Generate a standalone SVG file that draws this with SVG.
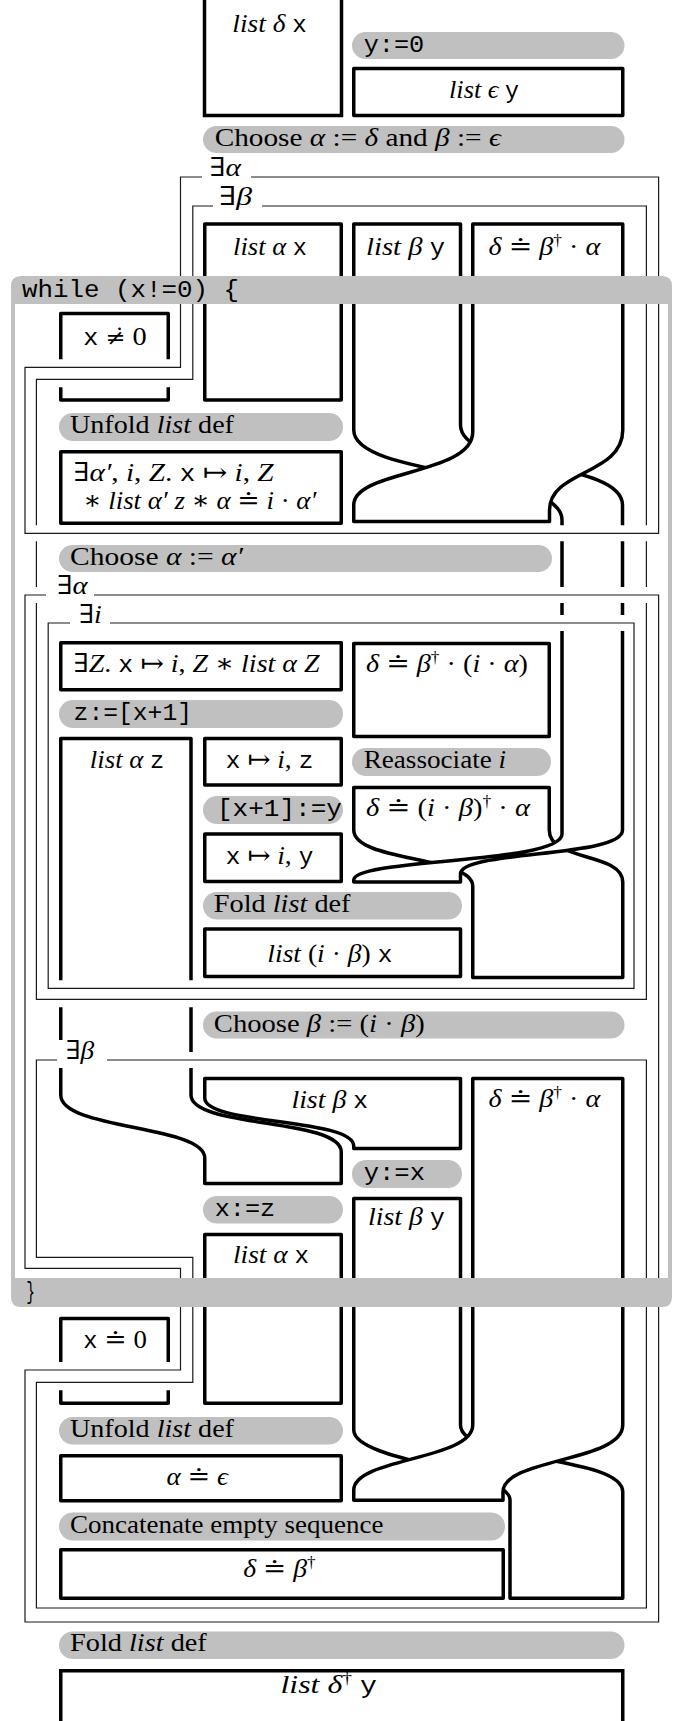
<svg xmlns="http://www.w3.org/2000/svg" width="687" height="1721" viewBox="0 0 687 1721">
<style>
.rb{fill:#fff;stroke:#000;stroke-width:3.5;stroke-linejoin:round}
.ed{fill:none;stroke:#000;stroke-width:3.5}
.wf{fill:#fff;stroke:none}
.pl{fill:#c0c0c0}
.bx{fill:none;stroke:#1a1a1a;stroke-width:1.2}
.hl{fill:none;stroke:#fff;stroke-width:16}
.lb{fill:#fff}
text{font-family:"Liberation Serif","DejaVu Serif",serif;font-size:26px;fill:#000}
.i{font-style:italic}
.tt{font-family:"Liberation Mono","DejaVu Sans Mono",monospace;font-size:23px}
.sup{font-size:16px}
.dj{font-family:"DejaVu Serif",serif;font-size:22px}
</style>

<!-- ribbons -->
<g id="ribbons">
  <g id="list-delta-x">
    <rect class="wf" x="204.5" y="-5" width="137" height="120.5"/>
    <path class="ed" d="M204.5,-5 V115.5 H341.5 V-5"/>
  </g>
  <rect id="list-eps-y" class="rb" x="353.75" y="68.5" width="269" height="47"/>
  <rect id="list-alpha-x-1" class="rb" x="204.75" y="224" width="136.5" height="176"/>
  <!-- delta ribbon passing under list beta y -->
  <path id="delta-2" class="rb" d="M353.75,787.5 H549.25 V830 C549.25,862 622.75,852 622.75,882 V977.5 H472.75 V886 C472.75,856 353.75,862 353.75,830 Z"/>
  <path id="list-beta-y-1" class="rb" d="M353.75,224 H460.5 V425 C460.5,470 622.5,460 622.5,505 V830 C622.5,858 460.5,850 460.5,874 V882 H353.75 V880 C353.75,858 562,864 562,834 V520 C562,470 353.75,478 353.75,430 Z"/>
  <path id="delta-1" class="rb" d="M472.75,224 H622.75 V430 C622.75,475 549.5,470 549.5,510 V521.5 H353.75 V505 C353.75,470 472.75,475 472.75,432 Z"/>
  <path id="x-neq-0" class="rb" d="M60.75,400 V313.5 H168.25 V400 Z"/>
  <rect id="unfold-result" class="rb" x="60.75" y="451.75" width="280.5" height="71.5"/>
  <rect id="exists-Z" class="rb" x="60.75" y="642.75" width="280.5" height="47"/>
  <rect id="delta-i-alpha" class="rb" x="353.75" y="643.5" width="195.5" height="93"/>
  <path id="list-alpha-z" class="rb" d="M60.75,738.5 H191 V1095 C191,1128 341.25,1118 341.25,1152 V1183.5 H204.75 V1158 C204.75,1125 60.75,1130 60.75,1095 Z"/>
  <rect id="x-pts-z" class="rb" x="204.75" y="738.5" width="136.5" height="46.5"/>
  <rect id="x-pts-y" class="rb" x="204.75" y="834" width="136.5" height="47.5"/>
  <rect id="list-i-beta-x" class="rb" x="204.75" y="929" width="255.75" height="47.5"/>
  <path id="list-beta-x" class="rb" d="M204.75,1078.5 H460.5 V1148.5 H353.75 V1146 C353.75,1118 204.75,1125 204.75,1098 Z"/>
  <path id="list-beta-y-3" class="rb" d="M353.75,1198.5 H460.5 V1425 C460.5,1462 622.75,1455 622.75,1492 V1598.25 H510 V1500 C510,1470 353.75,1462 353.75,1430 Z"/>
  <path id="delta-3" class="rb" d="M472.75,1078.5 H622.75 V1425 C622.75,1462 503,1458 503,1492 V1500.25 H353.75 V1490 C353.75,1458 472.75,1460 472.75,1425 Z"/>
  <rect id="list-alpha-x-3" class="rb" x="204.75" y="1234.5" width="136.5" height="168.75"/>
  <rect id="x-eq-0" class="rb" x="60.75" y="1318.5" width="107.5" height="84.75"/>
  <rect id="alpha-eq-eps" class="rb" x="60.75" y="1455.75" width="280.5" height="45"/>
  <rect id="delta-eq-beta-dag" class="rb" x="60.75" y="1549.75" width="442.5" height="48.5"/>
  <g id="list-delta-dag-y">
    <rect class="wf" x="60.75" y="1670.75" width="562" height="60"/>
    <path class="ed" d="M60.75,1730 V1670.75 H622.75 V1730"/>
  </g>
</g>

<!-- existential scopes: each drawn with a white halo so earlier lines break where they cross -->
<g id="scopes">
  <g id="ex-beta-1">
    <path class="hl" d="M192.8,206 V379.3 H36.4 V999.3 H646.4 V206 Z"/>
    <path class="bx" d="M192.8,206 V379.3 H36.4 V999.3 H646.4 V206 Z"/>
  </g>
  <g id="ex-alpha-1">
    <path class="hl" d="M180.5,177 V367.3 H25 V533.3 H658.6 V177 Z"/>
    <path class="bx" d="M180.5,177 V367.3 H25 V533.3 H658.6 V177 Z"/>
  </g>
  <g id="ex-alpha-2">
    <path class="hl" d="M25,595 V1268.3 H180.5 V1370 H25 V1622 H658.6 V595 Z"/>
    <path class="bx" d="M25,595 V1268.3 H180.5 V1370 H25 V1622 H658.6 V595 Z"/>
  </g>
  <g id="ex-i">
    <path class="hl" d="M48.2,623 V988.3 H634 V623 Z"/>
    <path class="bx" d="M48.2,623 V988.3 H634 V623 Z"/>
  </g>
  <g id="ex-beta-2">
    <path class="hl" d="M36.4,1060 V1257.3 H192.8 V1382.3 H36.4 V1608 H646.4 V1060 Z"/>
    <path class="bx" d="M36.4,1060 V1257.3 H192.8 V1382.3 H36.4 V1608 H646.4 V1060 Z"/>
  </g>
  <rect class="lb" x="202" y="158" width="49" height="26"/>
  <rect class="lb" x="213" y="187" width="49" height="27"/>
  <rect class="lb" x="46" y="576" width="48" height="27"/>
  <rect class="lb" x="70" y="604" width="40" height="27"/>
  <rect class="lb" x="57" y="1040" width="50" height="28"/>
  <text x="209.5" y="176" textLength="31.5" lengthAdjust="spacingAndGlyphs">∃<tspan class="i">α</tspan></text>
  <text x="219" y="205" textLength="33" lengthAdjust="spacingAndGlyphs">∃<tspan class="i">β</tspan></text>
  <text x="57" y="594" textLength="30.6" lengthAdjust="spacingAndGlyphs">∃<tspan class="i">α</tspan></text>
  <text x="79" y="622.5" textLength="22.8" lengthAdjust="spacingAndGlyphs">∃<tspan class="i">i</tspan></text>
  <text x="65.7" y="1058.5" textLength="28.5" lengthAdjust="spacingAndGlyphs">∃<tspan class="i">β</tspan></text>
</g>

<!-- proof steps -->
<g id="steps">
  <g id="s-y0"><rect class="pl" x="352" y="32" width="272.5" height="27" rx="13.5"/>
    <text class="tt" x="363.7" y="52" textLength="60.5" lengthAdjust="spacingAndGlyphs">y:=0</text></g>
  <g id="s-choose1"><rect class="pl" x="203" y="126" width="421.5" height="27" rx="13.5"/>
    <text x="214.7" y="146" textLength="286" lengthAdjust="spacingAndGlyphs">Choose <tspan class="i">α</tspan> := <tspan class="i">δ</tspan> and <tspan class="i">β</tspan> := <tspan class="i">ϵ</tspan></text></g>
  <g id="s-unfold1"><rect class="pl" x="59" y="413" width="284" height="28" rx="14"/>
    <text x="70" y="432.5" textLength="164" lengthAdjust="spacingAndGlyphs">Unfold <tspan class="i">list</tspan> def</text></g>
  <g id="s-choose2"><rect class="pl" x="59" y="545" width="493" height="27" rx="13.5"/>
    <text x="70" y="564.5" textLength="173" lengthAdjust="spacingAndGlyphs">Choose <tspan class="i">α</tspan> := <tspan class="i">α′</tspan></text></g>
  <g id="s-load"><rect class="pl" x="59" y="700" width="284" height="28" rx="14"/>
    <text class="tt" x="73.6" y="720" textLength="118.4" lengthAdjust="spacingAndGlyphs">z:=[x+1]</text></g>
  <g id="s-reassoc"><rect class="pl" x="352" y="748" width="199" height="28" rx="14"/>
    <text x="363.7" y="768" textLength="142.4" lengthAdjust="spacingAndGlyphs">Reassociate <tspan class="i">i</tspan></text></g>
  <g id="s-store"><rect class="pl" x="203" y="796" width="140" height="28" rx="14"/>
    <text class="tt" x="217" y="816" textLength="125" lengthAdjust="spacingAndGlyphs">[x+1]:=y</text></g>
  <g id="s-fold1"><rect class="pl" x="203" y="892" width="259" height="27.5" rx="13.75"/>
    <text x="213.8" y="911.5" textLength="136.7" lengthAdjust="spacingAndGlyphs">Fold <tspan class="i">list</tspan> def</text></g>
  <g id="s-choose3"><rect class="pl" x="203" y="1011.5" width="421.5" height="27" rx="13.5"/>
    <text x="213.8" y="1031.5" textLength="211" lengthAdjust="spacingAndGlyphs">Choose <tspan class="i">β</tspan> := (<tspan class="i">i</tspan> · <tspan class="i">β</tspan>)</text></g>
  <g id="s-yx"><rect class="pl" x="352" y="1160" width="110" height="28" rx="14"/>
    <text class="tt" x="363.7" y="1180" textLength="61.3" lengthAdjust="spacingAndGlyphs">y:=x</text></g>
  <g id="s-xz"><rect class="pl" x="203" y="1196" width="140" height="27.5" rx="13.75"/>
    <text class="tt" x="214.7" y="1216" textLength="60.5" lengthAdjust="spacingAndGlyphs">x:=z</text></g>
  <g id="s-unfold2"><rect class="pl" x="59" y="1417" width="284" height="27.5" rx="13.75"/>
    <text x="70" y="1437" textLength="164" lengthAdjust="spacingAndGlyphs">Unfold <tspan class="i">list</tspan> def</text></g>
  <g id="s-concat"><rect class="pl" x="59" y="1512.5" width="446" height="28" rx="14"/>
    <text x="70" y="1533" textLength="313.4" lengthAdjust="spacingAndGlyphs">Concatenate empty sequence</text></g>
  <g id="s-fold2"><rect class="pl" x="59" y="1631.5" width="565.5" height="27.5" rx="13.75"/>
    <text x="70" y="1650.5" textLength="136.8" lengthAdjust="spacingAndGlyphs">Fold <tspan class="i">list</tspan> def</text></g>
</g>

<!-- assertion labels -->
<g id="assertions">
  <text x="232.3" y="32" textLength="74.5" lengthAdjust="spacingAndGlyphs"><tspan class="i">list δ</tspan> <tspan class="tt">x</tspan></text>
  <text x="449" y="98" textLength="70" lengthAdjust="spacingAndGlyphs"><tspan class="i">list ϵ</tspan> <tspan class="tt">y</tspan></text>
  <text x="233" y="255" textLength="74" lengthAdjust="spacingAndGlyphs"><tspan class="i">list α</tspan> <tspan class="tt">x</tspan></text>
  <text x="366" y="255" textLength="79" lengthAdjust="spacingAndGlyphs"><tspan class="i">list β</tspan> <tspan class="tt">y</tspan></text>
  <text x="488.6" y="255" textLength="111.7" lengthAdjust="spacingAndGlyphs"><tspan class="i">δ</tspan> ≐ <tspan class="i">β</tspan><tspan class="sup" dy="-9">†</tspan><tspan dy="9"> · </tspan><tspan class="i">α</tspan></text>
  <text x="83.3" y="345" textLength="63.5" lengthAdjust="spacingAndGlyphs"><tspan class="tt">x</tspan> <tspan class="dj">≠&#x307;</tspan> 0</text>
  <text x="73.6" y="481" textLength="200" lengthAdjust="spacingAndGlyphs">∃<tspan class="i">α′</tspan>, <tspan class="i">i</tspan>, <tspan class="i">Z</tspan>. <tspan class="tt">x</tspan> ↦ <tspan class="i">i</tspan>, <tspan class="i">Z</tspan></text>
  <text x="83.3" y="509" textLength="233" lengthAdjust="spacingAndGlyphs">∗ <tspan class="i">list α′ z</tspan> ∗ <tspan class="i">α</tspan> ≐ <tspan class="i">i</tspan> · <tspan class="i">α′</tspan></text>
  <text x="73.6" y="671.5" textLength="246" lengthAdjust="spacingAndGlyphs">∃<tspan class="i">Z</tspan>. <tspan class="tt">x</tspan> ↦ <tspan class="i">i</tspan>, <tspan class="i">Z</tspan> ∗ <tspan class="i">list α Z</tspan></text>
  <text x="366" y="671.5" textLength="162" lengthAdjust="spacingAndGlyphs"><tspan class="i">δ</tspan> ≐ <tspan class="i">β</tspan><tspan class="sup" dy="-9">†</tspan><tspan dy="9"> · (</tspan><tspan class="i">i</tspan> · <tspan class="i">α</tspan>)</text>
  <text x="89.8" y="767.5" textLength="74.5" lengthAdjust="spacingAndGlyphs"><tspan class="i">list α</tspan> <tspan class="tt">z</tspan></text>
  <text x="225.7" y="767.5" textLength="87.6" lengthAdjust="spacingAndGlyphs"><tspan class="tt">x</tspan> ↦ <tspan class="i">i</tspan>, <tspan class="tt">z</tspan></text>
  <text x="366" y="816" textLength="164" lengthAdjust="spacingAndGlyphs"><tspan class="i">δ</tspan> ≐ (<tspan class="i">i</tspan> · <tspan class="i">β</tspan>)<tspan class="sup" dy="-9">†</tspan><tspan dy="9"> · </tspan><tspan class="i">α</tspan></text>
  <text x="225.7" y="864" textLength="87.6" lengthAdjust="spacingAndGlyphs"><tspan class="tt">x</tspan> ↦ <tspan class="i">i</tspan>, <tspan class="tt">y</tspan></text>
  <text x="267.3" y="962" textLength="125" lengthAdjust="spacingAndGlyphs"><tspan class="i">list</tspan> (<tspan class="i">i</tspan> · <tspan class="i">β</tspan>) <tspan class="tt">x</tspan></text>
  <text x="291.4" y="1108" textLength="76.7" lengthAdjust="spacingAndGlyphs"><tspan class="i">list β</tspan> <tspan class="tt">x</tspan></text>
  <text x="488.6" y="1107" textLength="111.7" lengthAdjust="spacingAndGlyphs"><tspan class="i">δ</tspan> ≐ <tspan class="i">β</tspan><tspan class="sup" dy="-9">†</tspan><tspan dy="9"> · </tspan><tspan class="i">α</tspan></text>
  <text x="368" y="1225" textLength="76.7" lengthAdjust="spacingAndGlyphs"><tspan class="i">list β</tspan> <tspan class="tt">y</tspan></text>
  <text x="233" y="1263" textLength="76" lengthAdjust="spacingAndGlyphs"><tspan class="i">list α</tspan> <tspan class="tt">x</tspan></text>
  <text x="83.3" y="1348" textLength="63.5" lengthAdjust="spacingAndGlyphs"><tspan class="tt">x</tspan> ≐ 0</text>
  <text x="166.5" y="1485" textLength="61.4" lengthAdjust="spacingAndGlyphs"><tspan class="i">α</tspan> ≐ <tspan class="i">ϵ</tspan></text>
  <text x="243.2" y="1577" textLength="72.3" lengthAdjust="spacingAndGlyphs"><tspan class="i">δ</tspan> ≐ <tspan class="i">β</tspan><tspan class="sup" dy="-9">†</tspan></text>
  <text x="280.5" y="1693" textLength="96.4" lengthAdjust="spacingAndGlyphs"><tspan class="i">list δ</tspan><tspan class="sup" dy="-9">†</tspan> <tspan class="tt" dy="9">y</tspan></text>
</g>

<!-- while loop frame -->
<g id="while-loop">
  <path class="pl" fill-rule="evenodd" d="M21,276 H662 Q672,276 672,286 V1297 Q672,1307 662,1307 H21 Q11,1307 11,1297 V286 Q11,276 21,276 Z M15,304 V1278 H668 V304 Z"/>
  <text class="tt" x="22" y="297" textLength="217" lengthAdjust="spacingAndGlyphs">while (x!=0) {</text>
  <text class="tt" x="26.3" y="1299" textLength="8.7" lengthAdjust="spacingAndGlyphs">}</text>
</g>
</svg>
